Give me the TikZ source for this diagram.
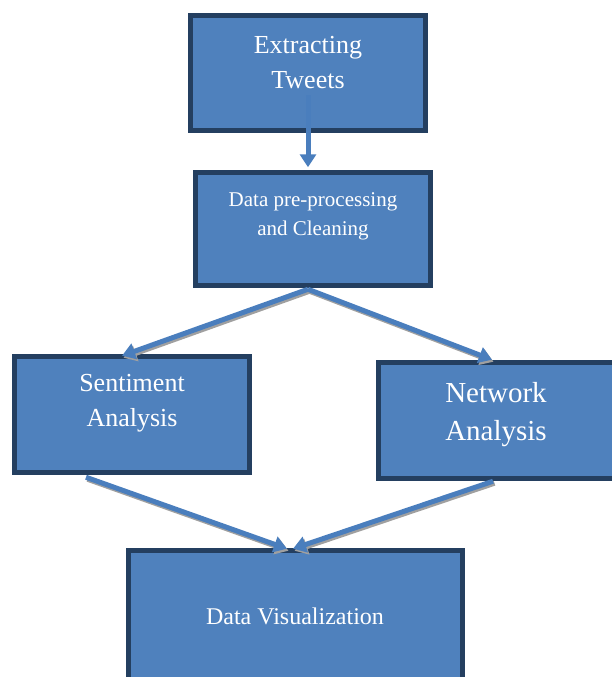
\documentclass[tikz,border=0pt]{standalone}
\usepackage{fontspec}
\setmainfont{Liberation Serif}
\usetikzlibrary{arrows.meta,calc}
\definecolor{boxfill}{HTML}{4F81BD}
\definecolor{boxline}{HTML}{243F60}
\definecolor{arrowblue}{HTML}{4A7EBD}
\definecolor{arrowedge}{HTML}{6A96CC}
\definecolor{shadowgray}{HTML}{A0A0A0}
\tikzset{
  flowbox/.style={draw=boxline, fill=boxfill, line width=4.5pt, inner sep=0pt},
  boxtext/.style={text=white, align=center, inner sep=0pt},
  flowarrow/.style={draw=arrowblue, line width=5pt, -{Triangle[width=16pt,length=13pt]}},
  flowshadow/.style={draw=shadowgray, line width=5pt, -{Triangle[width=16pt,length=13pt]}, transform canvas={shift={(1.5pt,-2pt)}}}
}
\begin{document}
\begin{tikzpicture}[x=1pt,y=-1pt]
\useasboundingbox (0,0) rectangle (612,677);
\clip (0,0) rectangle (612,677);
% boxes
\node[flowbox, minimum width=235pt, minimum height=115pt] (b1) at (308,73) {};
\node[flowbox, minimum width=235pt, minimum height=113pt] (b2) at (313,229) {};
\node[flowbox, minimum width=235pt, minimum height=116pt] (b3) at (132,414.5) {};
\node[flowbox, minimum width=236pt, minimum height=116pt] (b4) at (496.5,420.5) {};
\node[flowbox, minimum width=334pt, minimum height=150pt] (b5) at (295.5,625.5) {};
% texts
\node[boxtext, font=\fontsize{26}{35}\selectfont] (t1) at (308,63) {Extracting\\Tweets};
\node[boxtext, font=\fontsize{21}{29}\selectfont] (t2) at (313,216) {Data pre-processing\\and Cleaning};
\node[boxtext, font=\fontsize{26}{35}\selectfont] (t3) at (132,403) {Sentiment\\Analysis};
\node[boxtext, font=\fontsize{29}{38}\selectfont] (t4) at (496,415) {Network\\Analysis};
\node[boxtext, font=\fontsize{24}{30}\selectfont] (t5) at (295,616) {Data Visualization};
% connector end points
\coordinate (a1s) at ($(b1.center)+(0,22)$);
\coordinate (a1e) at ($(b2.north)+(-5,-3)$);
\coordinate (a2s) at ($(b2.south)+(-5,1.5)$);
\coordinate (a2e) at ($(b3.north)+(-10,1.5)$);
\coordinate (a3e) at ($(b4.north)+(-4.5,-0.5)$);
\coordinate (a4s) at ($(b3.south)+(-46,2.5)$);
\coordinate (a4e) at ($(b5.north)+(-8.5,0.5)$);
\coordinate (a5s) at ($(b4.south)+(-3.5,0.5)$);
\coordinate (a5e) at ($(b5.north)+(-2.5,0.5)$);
% shadows
\draw[flowshadow] (a2s) -- (a2e);
\draw[flowshadow] (a2s) -- (a3e);
\draw[flowshadow] (a4s) -- (a4e);
\draw[flowshadow] (a5s) -- (a5e);
% arrows
\draw[flowarrow] (a1s) -- (a1e);
\draw[flowarrow] (a2s) -- (a2e);
\draw[flowarrow] (a2s) -- (a3e);
\draw[flowarrow] (a4s) -- (a4e);
\draw[flowarrow] (a5s) -- (a5e);
\end{tikzpicture}
\end{document}
